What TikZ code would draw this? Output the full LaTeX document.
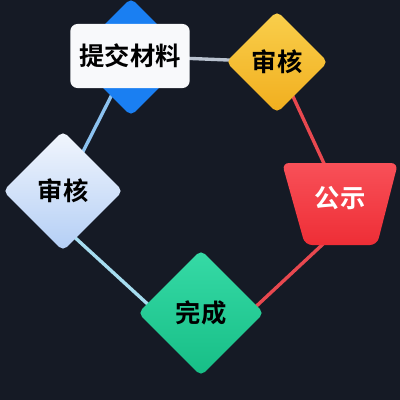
\documentclass[tikz,border=0pt]{standalone}
\usepackage{fontspec}
\newfontfamily\cjk{Noto Sans CJK SC}[BoldFont={Noto Sans CJK SC Bold}]
\usetikzlibrary{shapes.geometric,calc,backgrounds}
\definecolor{bgnavy}{HTML}{151A25}
\definecolor{bluedia}{HTML}{1A7FF2}
\definecolor{paper}{HTML}{F8F9FB}
\definecolor{yeltop}{HTML}{F9CF4C}
\definecolor{yelbot}{HTML}{F1AE1E}
\definecolor{redtop}{HTML}{F85058}
\definecolor{redbot}{HTML}{EE2E36}
\definecolor{grntop}{HTML}{36DAA6}
\definecolor{grnbot}{HTML}{17BE86}
\definecolor{icetop}{HTML}{F2F6FD}
\definecolor{icebot}{HTML}{B3CEF5}
\definecolor{linkgray}{HTML}{B9C2CF}
\definecolor{linkred}{HTML}{E8484F}
\definecolor{linkcyan}{HTML}{A6DDF0}
\definecolor{linkblue}{HTML}{8CC2F0}
\begin{document}
\begin{tikzpicture}[x=0.025cm,y=-0.025cm,
    label/.style={font=\cjk\bfseries\fontsize{18}{20}\selectfont},
    stepbox/.style={diamond,rounded corners=4pt,inner sep=0pt,label},
    link/.style={line width=2.4pt}]

    \useasboundingbox (0,0) rectangle (400,400);

    % steps
    \node[stepbox,minimum size=2.95cm,fill=bluedia] (blue) at (131,57) {};
    \node[label,fill=paper,rounded corners=5pt,minimum width=2.98cm,minimum height=1.6cm] (submit) at (130,56) {提交材料};
    \node[stepbox,minimum size=2.55cm,top color=yeltop,bottom color=yelbot] (audit) at (277,62) {审核};
    \shade[top color=redtop,bottom color=redbot,rounded corners=5pt]
        (282,163) -- (398,163) -- (377,245) -- (305,245) -- cycle;
    \node[label,text=white] (pub) at (340,198) {公示};
    \node[stepbox,minimum size=3.15cm,top color=grntop,bottom color=grnbot] (done) at (201,313) {完成};
    \node[stepbox,minimum size=3cm,top color=icetop,bottom color=icebot] (check) at (63,191) {审核};

    \begin{pgfonlayer}{background}
        \fill[bgnavy] (0,0) rectangle (400,400);
        \draw[link,linkgray] (submit.center) -- (audit.center);
        \draw[link,linkred] (audit.center) -- (pub.center);
        \draw[link,linkred] ($(pub.center)+(26,6)$) -- ($(done.center)+(48,0)$);
        \draw[link,linkcyan] ($(check.center)+(7,42)$) -- ($(done.center)+(-36,7)$);
        \draw[link,linkblue] (check.center) -- (blue.center);
    \end{pgfonlayer}

\end{tikzpicture}
\end{document}
